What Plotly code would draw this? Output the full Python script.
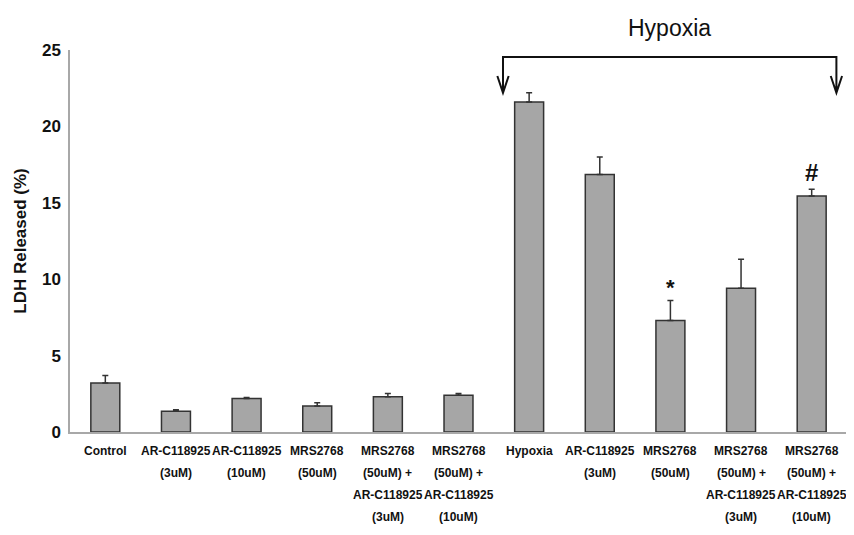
import plotly.graph_objects as go

label_lines = [
    ["Control"],
    ["AR-C118925", "(3uM)"],
    ["AR-C118925", "(10uM)"],
    ["MRS2768", "(50uM)"],
    ["MRS2768", "(50uM) +", "AR-C118925", "(3uM)"],
    ["MRS2768", "(50uM) +", "AR-C118925", "(10uM)"],
    ["Hypoxia"],
    ["AR-C118925", "(3uM)"],
    ["MRS2768", "(50uM)"],
    ["MRS2768", "(50uM) +", "AR-C118925", "(3uM)"],
    ["MRS2768", "(50uM) +", "AR-C118925", "(10uM)"],
]
ldh_values = [3.2, 1.35, 2.2, 1.7, 2.3, 2.4, 21.6, 16.85, 7.3, 9.4, 15.45]
ldh_errors = [0.5, 0.1, 0.05, 0.22, 0.22, 0.12, 0.6, 1.15, 1.3, 1.9, 0.43]
y_ticks = [0, 5, 10, 15, 20, 25]
marks = {8: "*", 10: "#"}
group_label = "Hypoxia"
group_span = (6, 10)

x_idx = list(range(len(label_lines)))
FONT = "Liberation Sans, Arial, sans-serif"

fig = go.Figure()
fig.add_trace(go.Bar(
    x=x_idx, y=ldh_values, width=0.41,
    marker=dict(color="#a6a6a6", line=dict(color="#333333", width=1.5)),
    error_y=dict(type="data", symmetric=False, array=ldh_errors,
                 arrayminus=[0] * len(ldh_errors),
                 color="#333333", thickness=1.5, width=3),
    showlegend=False,
))

annotations = []
for i, lines in enumerate(label_lines):
    for k, line in enumerate(lines):
        annotations.append(dict(
            x=i, y=0, xref="x", yref="paper", text=f"<b>{line}</b>",
            showarrow=False, yanchor="middle", xanchor="center",
            yshift=-(18.5 + 22 * k),
            font=dict(family=FONT, size=12, color="#111111"),
        ))

shifts = {"*": -1, "#": 1}
sizes = {"*": 22, "#": 24}
for i, m in marks.items():
    annotations.append(dict(
        x=i, y=ldh_values[i] + ldh_errors[i], xref="x", yref="y",
        text=f"<b>{m}</b>", showarrow=False, yanchor="bottom",
        yshift=shifts[m],
        font=dict(family=FONT, size=sizes[m], color="#111111"),
    ))

gx0 = group_span[0] - 0.37
gx1 = group_span[1] + 0.35
y_top = 24.55
y_tip = 22.2
annotations.append(dict(
    x=(gx0 + gx1) / 2, y=1, xref="x", yref="paper", text=group_label,
    showarrow=False, yanchor="middle", yshift=22,
    font=dict(family=FONT, size=23, color="#111111"),
))

dx, dy = 0.08, 1.1
path = (f"M{gx0},{y_tip} L{gx0},{y_top} L{gx1},{y_top} L{gx1},{y_tip} "
        f"M{gx0 - dx},{y_tip + dy} L{gx0},{y_tip} L{gx0 + dx},{y_tip + dy} "
        f"M{gx1 - dx},{y_tip + dy} L{gx1},{y_tip} L{gx1 + dx},{y_tip + dy}")
shapes = [dict(type="path", xref="x", yref="y", path=path,
               line=dict(color="#111111", width=2))]

# the page body adds an 8px offset, so the figure is 8px smaller each way
fig.update_layout(
    width=846, height=527,
    margin=dict(l=62, r=7, t=42, b=103, autoexpand=False),
    paper_bgcolor="white", plot_bgcolor="white",
    annotations=annotations, shapes=shapes,
    xaxis=dict(range=[-0.5, len(label_lines) - 0.5], showticklabels=False,
               showgrid=False, zeroline=False, showline=True,
               linecolor="#a8a8a8", linewidth=1.5, ticks="", automargin=False),
    yaxis=dict(range=[0, 25], tickvals=y_ticks, showgrid=False, zeroline=False,
               showline=True, linecolor="#a8a8a8", linewidth=1.5, ticks="",
               ticklabelstandoff=4, automargin=False,
               tickfont=dict(family="Liberation Sans Narrow, Liberation Sans, Arial, sans-serif",
                             size=17, color="#111111", weight="bold"),
               title=dict(text="<b>LDH Released (%)</b>", standoff=11,
                          font=dict(family=FONT, size=17, color="#111111"))),
)

fig.write_html("out.html")
